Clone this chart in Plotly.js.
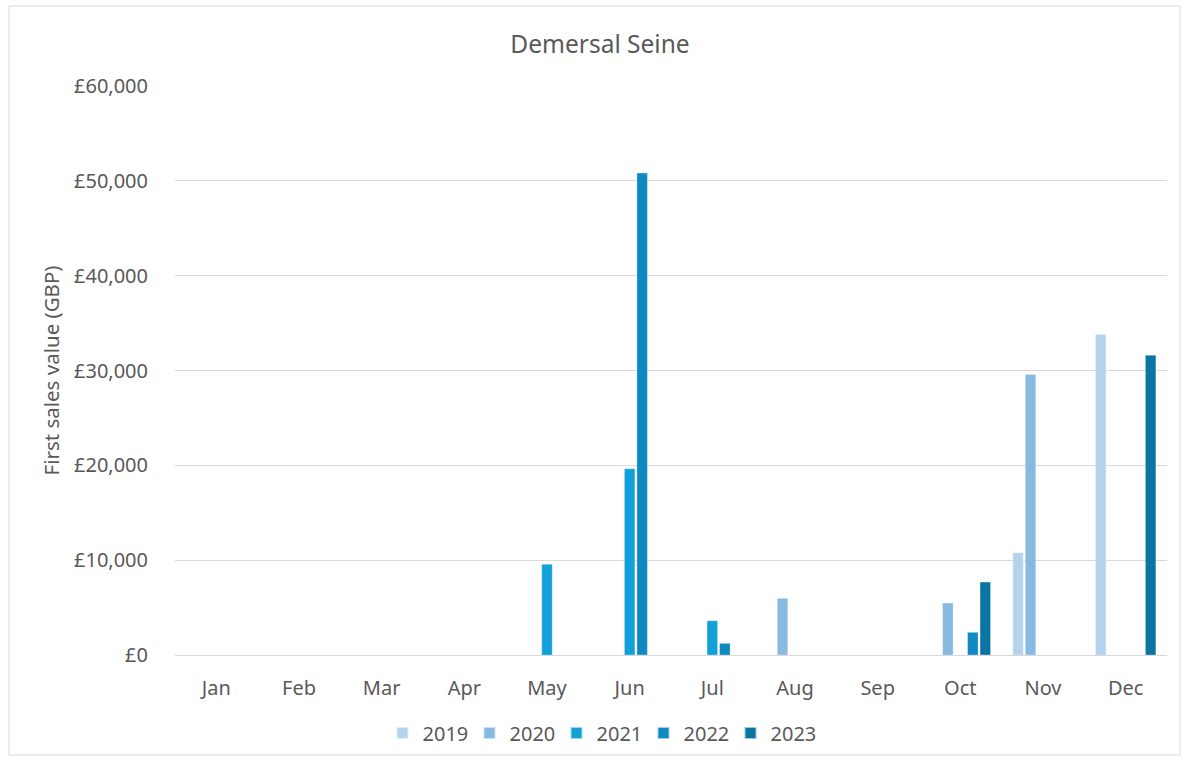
<!DOCTYPE html>
<html>
<head>
<meta charset="utf-8">
<script src="https://cdn.plot.ly/plotly-3.0.1.min.js"></script>
<style>html,body{margin:0;padding:0;background:#fff;}#chart{width:1189px;height:761px;}</style>
</head>
<body>
<div id="chart"></div>
<script>
const months = ["Jan","Feb","Mar","Apr","May","Jun","Jul","Aug","Sep","Oct","Nov","Dec"];
const years = ["2019","2020","2021","2022","2023"];
const v2019 = [null,null,null,null,null,null,null,null,null,null,10780,33790];
const v2020 = [null,null,null,null,null,null,null,5970,null,5480,29580,null];
const v2021 = [null,null,null,null,9560,19630,3610,null,null,null,null,null];
const v2022 = [null,null,null,null,null,50820,1230,null,null,2390,null,null];
const v2023 = [null,null,null,null,null,null,null,null,null,7690,null,31610];
const yTickVals = [0,10000,20000,30000,40000,50000,60000];
const yTickText = ["£0","£10,000","£20,000","£30,000","£40,000","£50,000","£60,000"];
const colors = ["#B4D3EC","#86BAE0","#11A0D7","#0E8AC0","#0A75A2"];
const series = [v2019,v2020,v2021,v2022,v2023];

const font = "Noto Sans, Open Sans, Liberation Sans, sans-serif";
const traces = series.map((vals,i)=>({
  type:"bar", name:years[i], x:months, y:vals,
  marker:{color:colors[i], line:{color:"rgba(255,255,255,0.6)", width:0.5}},
  hoverinfo:"x+y+name"
}));

const L = 175, R = 1167;
const pw = R - L;
const layout = {
  width:1189, height:761,
  margin:{l:175, r:22, t:86, b:106},
  paper_bgcolor:"#fff", plot_bgcolor:"#fff",
  barmode:"group", bargap:0.245, bargroupgap:0.16,
  font:{family:font, color:"#595959", size:20},
  title:{text:"Demersal Seine", font:{family:font, size:24.5, color:"#595959"},
         xref:"container", x:600/1189, xanchor:"center", yref:"container", y:1-44/761, yanchor:"middle"},
  xaxis:{type:"category", tickfont:{size:20, color:"#595959"}, showgrid:false,
         showline:true, linecolor:"#D9D9D9", linewidth:1, ticks:"", ticklabelstandoff:15, zeroline:false},
  yaxis:{range:[0,60000], tickvals:yTickVals, ticktext:yTickText, tickfont:{size:20, color:"#595959"},
         showgrid:true, gridcolor:"#D9D9D9", gridwidth:1, zeroline:false, showline:false, ticks:"",
         ticklabelstandoff:26},
  annotations:[{text:"First sales value (GBP)", textangle:-90, xref:"paper", yref:"paper",
                x:(50-L)/pw, y:(655-370.5)/569, xanchor:"center", yanchor:"middle", showarrow:false,
                font:{family:font, size:20.5, color:"#595959"}}],
  legend:{orientation:"h", xref:"container", yref:"container", x:600/1189, xanchor:"center",
          y:1-733/761, yanchor:"middle", font:{size:20, color:"#595959"}, traceorder:"normal",
          entrywidth:42, entrywidthmode:"pixels", itemsizing:"constant"},
  shapes:[{type:"rect", xref:"paper", yref:"paper",
           x0:(9-L)/pw, x1:(1180-L)/pw, y0:-(755-655)/569, y1:1+(86-6)/569,
           line:{color:"#D9D9D9", width:1}, fillcolor:"rgba(0,0,0,0)", layer:"below"}]
};
Plotly.newPlot("chart", traces, layout, {displayModeBar:false, staticPlot:true});
</script>
</body>
</html>
